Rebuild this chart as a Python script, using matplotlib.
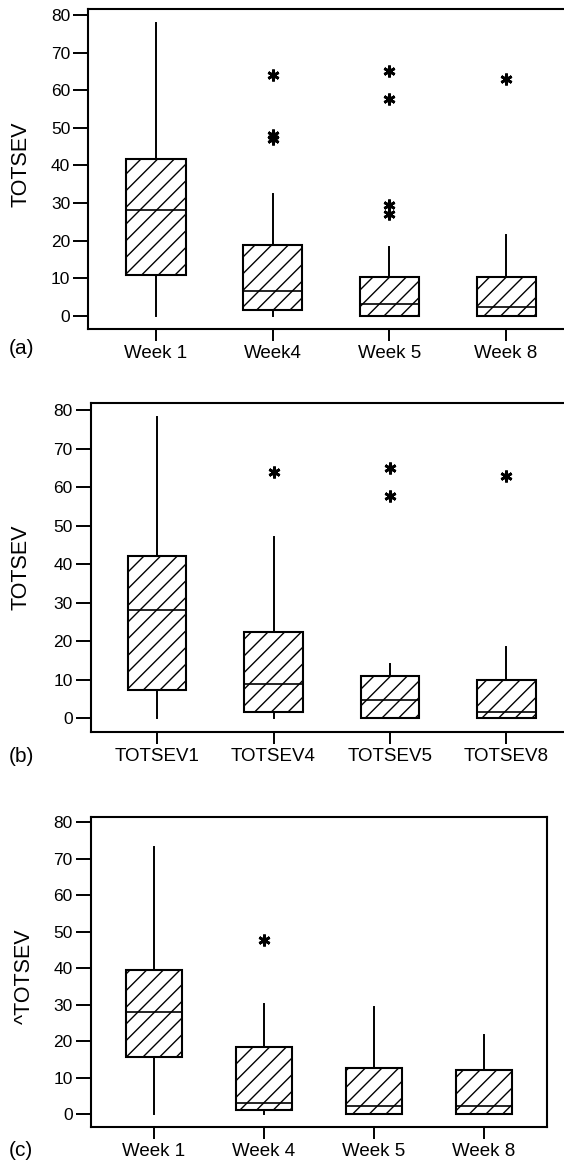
import matplotlib.pyplot as plt

plt.rcParams['font.family'] = ['Liberation Sans', 'DejaVu Sans']
plt.rcParams['hatch.linewidth'] = 1.0

W, H = 564, 1163

# (a) TOTSEV by week
labels_a = ["Week 1", "Week4", "Week 5", "Week 8"]
lo_a = [0, 0, 0, 0]
q1_a = [10.8, 1.5, 0, 0]
med_a = [28.1, 6.7, 3.2, 2.2]
q3_a = [41.6, 18.7, 10.4, 10.4]
hi_a = [78.0, 32.4, 18.4, 21.5]
out_a = [[], [64, 48, 47], [65, 57.6, 29.4, 27.1], [63]]

# (b) TOTSEV1..8
labels_b = ["TOTSEV1", "TOTSEV4", "TOTSEV5", "TOTSEV8"]
lo_b = [0, 0, 0, 0]
q1_b = [7.35, 1.56, 0, 0]
med_b = [28.1, 8.9, 4.8, 1.6]
q3_b = [42.2, 22.5, 11.0, 9.9]
hi_b = [78.1, 47.0, 14.2, 18.4]
out_b = [[], [64], [65, 57.7], [62.9]]

# (c) ^TOTSEV
labels_c = ["Week 1", "Week 4", "Week 5", "Week 8"]
lo_c = [0, 0, 0, 0]
q1_c = [15.7, 1.1, 0, 0]
med_c = [28.1, 2.9, 2.2, 2.2]
q3_c = [39.5, 18.4, 12.5, 12.1]
hi_c = [73.3, 30.3, 29.3, 21.7]
out_c = [[], [47.7], [], []]


def px_rect(left, top, right, bottom):
    return [left / W, 1 - bottom / H, (right - left) / W, (bottom - top) / H]


def panel(rect, labels, lo, q1, med, q3, hi, out, xlim, ylim):
    ax = fig.add_axes(px_rect(*rect))
    stats = []
    for i in range(len(labels)):
        stats.append(dict(whislo=lo[i], q1=q1[i], med=med[i], q3=q3[i],
                          whishi=hi[i], fliers=out[i], label=labels[i]))
    ax.bxp(stats, widths=0.506, showcaps=False, patch_artist=True,
           boxprops=dict(facecolor='white', edgecolor='black', hatch='//', linewidth=1.5),
           medianprops=dict(color='black', linewidth=1.2),
           whiskerprops=dict(color='black', linewidth=1.4),
           flierprops=dict(marker=(6, 2, 0), markersize=8.5, markeredgecolor='black',
                           markeredgewidth=2.0, linestyle='none'))
    ax.set_xlim(*xlim)
    ax.set_ylim(*ylim)
    ax.set_yticks(range(0, 81, 10))
    for s in ax.spines.values():
        s.set_linewidth(1.5)
    ax.tick_params(axis='y', length=11, width=1.4, pad=2, labelsize=12.5)
    ax.tick_params(axis='x', length=8.5, width=1.4, pad=3, labelsize=13.5)
    return ax


fig = plt.figure(figsize=(W / 100, H / 100), dpi=100)

panel((88.3, 9, 573.8, 329.3), labels_a, lo_a, q1_a, med_a, q3_a, hi_a, out_a,
      (0.42, 4.58), (-3.62, 81.6))
panel((90.6, 403.3, 572.9, 731.7), labels_b, lo_b, q1_b, med_b, q3_b, hi_b, out_b,
      (0.43, 4.57), (-3.47, 81.74))
panel((90.6, 816.7, 546.8, 1126.7), labels_c, lo_c, q1_c, med_c, q3_c, hi_c, out_c,
      (0.424, 4.572), (-3.48, 81.55))

# axis titles and panel letters
fig.text(21 / W, 1 - 164 / H, "TOTSEV", rotation=90, ha='center', va='center', fontsize=15.5)
fig.text(21 / W, 1 - 567 / H, "TOTSEV", rotation=90, ha='center', va='center', fontsize=15.5)
fig.text(24 / W, 1 - 976 / H, "^TOTSEV", rotation=90, ha='center', va='center', fontsize=15.5)
fig.text(21 / W, 1 - 348 / H, "(a)", ha='center', va='center', fontsize=15)
fig.text(21 / W, 1 - 757 / H, "(b)", ha='center', va='center', fontsize=15)
fig.text(21 / W, 1 - 1150 / H, "(c)", ha='center', va='center', fontsize=15)

fig.savefig("out.png", dpi=100)
